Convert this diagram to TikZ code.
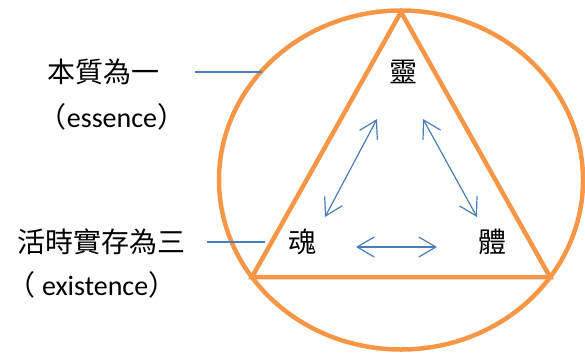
\documentclass[tikz,border=0pt]{standalone}
\usepackage{fontspec}
\setmainfont{Carlito}
\newfontfamily\cjk{Noto Sans CJK TC}
\usepackage{xcolor}
\usetikzlibrary{arrows.meta, positioning}
\definecolor{shapeorange}{HTML}{F79646}
\definecolor{lineblue}{HTML}{4A7EBB}

\begin{document}
\begin{tikzpicture}[
    x=1pt, y=-1pt,
    label/.style={inner sep=0pt, font=\fontsize{28}{34}\selectfont},
    part/.style={inner sep=0pt, font=\fontsize{28}{34}\selectfont\cjk},
    outline/.style={draw=shapeorange, line width=4.5pt, line join=miter},
    leader/.style={draw=lineblue, line width=1.2pt},
    relation/.style={{Straight Barb[length=17pt,width=20pt]}-{Straight Barb[length=17pt,width=20pt]},
                     draw=lineblue, line width=1.2pt}
]
\useasboundingbox (0,0) rectangle (585,354);

% Circle and triangle
\draw[outline] (401,180) ellipse [x radius=182, y radius=169.5];
\draw[outline] (401,12) -- (252,277) -- (550,277) -- cycle;

% Three parts
\node[part] at (403,72) (ling) {靈};
\node[part] at (302,242) (hun) {魂};
\node[part] at (492,242) (ti) {體};

% Side texts
\node[part] at (103,72) (essence) {本質為一};
\node[label] at (112,117) (essencelat) {{\cjk （}essence{\cjk ）}};
\node[part] at (101,242) (existence) {活時實存為三};
\node[label] at (92,285) (existencelat) {{\cjk （} existence{\cjk ）}};

% Leader lines
\coordinate[right=36pt of essence] (essence-start);
\coordinate (essence-end) at (262,72);
\coordinate[right=22pt of existence] (existence-start);
\coordinate (existence-end) at (265,242);
\draw[leader] (essence-start) -- (essence-end);
\draw[leader] (existence-start) -- (existence-end);

% Arrow ends
\coordinate (ling-left) at (377,119);
\coordinate (ling-right) at (423,119);
\coordinate (hun-top) at (325,217);
\coordinate (hun-right) at (356,247);
\coordinate (ti-top) at (477,217);
\coordinate (ti-left) at (437,247);

% Relations
\draw[relation] (ling-left) -- (hun-top);
\draw[relation] (ling-right) -- (ti-top);
\draw[relation] (hun-right) -- (ti-left);

\end{tikzpicture}
\end{document}
